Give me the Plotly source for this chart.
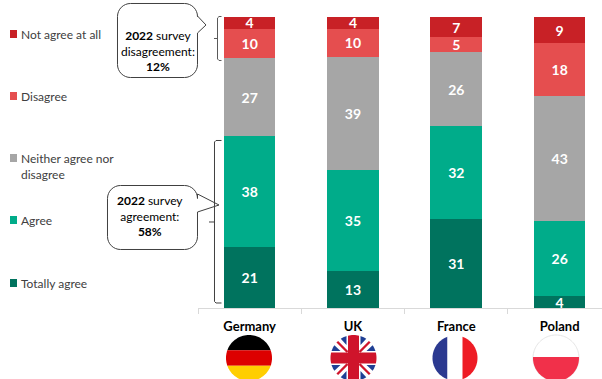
import math
import plotly.graph_objects as go

W, H = 602, 379
countries = ["Germany", "UK", "France", "Poland"]
series_names = ["Totally agree", "Agree", "Neither agree nor disagree", "Disagree", "Not agree at all"]
totally_agree = [21, 13, 31, 4]
agree = [38, 35, 32, 26]
neither = [27, 39, 26, 43]
disagree = [10, 10, 5, 18]
not_agree = [4, 4, 7, 9]
series_values = [totally_agree, agree, neither, disagree, not_agree]
series_colors = ["#00735E", "#00AC8A", "#A6A6A6", "#E54E4F", "#C82126"]

FONT = "Lato, Carlito, Calibri, sans-serif"
PL, PR, PT, PB = 198, 602, 17, 308


def px(x):
    return x / W


def py(y):
    return 1 - y / H


def path_from(points, close=True):
    s = "M" + " L".join(f"{px(x):.5f},{py(y):.5f}" for x, y in points)
    return s + (" Z" if close else "")


def circle_poly(cx, cy, r, n=96):
    return [(cx + r * math.cos(2 * math.pi * i / n), cy + r * math.sin(2 * math.pi * i / n)) for i in range(n)]


def signed_area(poly):
    return sum(poly[i][0] * poly[(i + 1) % len(poly)][1] - poly[(i + 1) % len(poly)][0] * poly[i][1]
               for i in range(len(poly))) / 2


def clip(poly, clipper):
    """Sutherland-Hodgman clipping to a convex clipper (clockwise on screen)."""
    out = poly
    for i in range(len(clipper)):
        a, b = clipper[i], clipper[(i + 1) % len(clipper)]
        inp, out = out, []

        def side(p):
            return (b[0] - a[0]) * (p[1] - a[1]) - (b[1] - a[1]) * (p[0] - a[0])

        for j in range(len(inp)):
            p, q = inp[j], inp[(j + 1) % len(inp)]
            sp, sq = side(p), side(q)
            if sp >= 0:
                out.append(p)
            if (sp >= 0) != (sq >= 0):
                t = sp / (sp - sq)
                out.append((p[0] + t * (q[0] - p[0]), p[1] + t * (q[1] - p[1])))
        if not out:
            return []
    return out


shapes = []


def add_poly(points, fill, line=None, lw=0):
    shapes.append(dict(type="path", xref="paper", yref="paper", path=path_from(points), fillcolor=fill,
                       line=dict(color=line or fill, width=lw), layer="above"))


def flag_poly(c, poly, fill):
    res = clip(poly, c)
    if res:
        add_poly(res, fill)


def flag_rect(c, x0, y0, x1, y1, fill):
    flag_poly(c, [(x0, y0), (x1, y0), (x1, y1), (x0, y1)], fill)


def band(c, a, b, half, fill):
    dx, dy = b[0] - a[0], b[1] - a[1]
    L = math.hypot(dx, dy)
    nx, ny = -dy / L * half, dx / L * half
    flag_poly(c, [(a[0] + nx, a[1] + ny), (b[0] + nx, b[1] + ny), (b[0] - nx, b[1] - ny), (a[0] - nx, a[1] - ny)], fill)


# Germany flag
cx, cy, r = 249, 358, 23
c = circle_poly(cx, cy, r)
flag_rect(c, cx - r, cy - r, cx + r, cy - r / 3, "#000000")
flag_rect(c, cx - r, cy - r / 3, cx + r, cy + r / 3, "#DD0000")
flag_rect(c, cx - r, cy + r / 3, cx + r, cy + r, "#FFCE00")

# UK flag
cx, cy, r = 353.5, 358, 23
c = circle_poly(cx, cy, r)
add_poly(c, "#FFFFFF")
blue = "#1F3F94"
red = "#CF142B"
for sx in (-1, 1):
    for sy in (-1, 1):
        t1 = [(cx + sx * 7, cy + sy * 22), (cx + sx * 7, cy + sy * 13), (cx + sx * 14.5, cy + sy * 21)]
        t2 = [(cx + sx * 22, cy + sy * 7), (cx + sx * 13, cy + sy * 7), (cx + sx * 21, cy + sy * 14.5)]
        for t in (t1, t2):
            if signed_area(t) < 0:
                t = t[::-1]
            flag_poly(c, t, blue)
for sx in (-1, 1):
    for sy in (-1, 1):
        band(c, (cx + sx * 23, cy + sy * 23), (cx + sx * 6, cy + sy * 6), 1.2, red)
flag_rect(c, cx - 5.5, cy - r, cx + 5.5, cy + r, red)
flag_rect(c, cx - r, cy - 5.5, cx + r, cy + 5.5, red)

# France flag
cx, cy, r = 455, 358, 22.5
c = circle_poly(cx, cy, r)
flag_rect(c, cx - r, cy - r, cx - r / 3, cy + r, "#2B3990")
flag_rect(c, cx - r / 3, cy - r, cx + r / 3, cy + r, "#FFFFFF")
flag_rect(c, cx + r / 3, cy - r, cx + r, cy + r, "#EE1C25")

# Poland flag
cx, cy, r = 556, 358, 23
c = circle_poly(cx, cy, r)
add_poly(c, "#FFFFFF", "#E6E6E6", 1)
flag_rect(c, cx - r, cy - 1, cx + r, cy + r, "#F1304A")


def rounded_callout(x0, y0, x1, y1, rad, tail):
    pts = []

    def arc(cx_, cy_, a0):
        for k in range(9):
            a = math.radians(a0 + k * 90 / 8)
            pts.append((cx_ + rad * math.cos(a), cy_ + rad * math.sin(a)))

    arc(x0 + rad, y0 + rad, 180)
    arc(x1 - rad, y0 + rad, 270)
    pts.extend(tail)
    arc(x1 - rad, y1 - rad, 0)
    arc(x0 + rad, y1 - rad, 90)
    return pts


CALL = "#404040"
add_poly(rounded_callout(117.5, 3.5, 197.5, 77.5, 13, [(197.5, 16), (206, 25), (197.5, 33)]), "#FFFFFF", CALL, 1)
add_poly(rounded_callout(107.5, 185.5, 197.5, 249.5, 13, [(197.5, 194), (219, 205), (197.5, 212)]), "#FFFFFF", CALL, 1)


def line_path(points, color, width=1):
    shapes.append(dict(type="path", xref="paper", yref="paper", path=path_from(points, close=False),
                       line=dict(color=color, width=width), layer="above"))


# Brackets
line_path([(221.5, 16.5), (219, 16.5), (217.5, 18), (217.5, 59), (219, 60.5), (221.5, 60.5)], "#595959")
line_path([(214, 38.5), (217.5, 38.5)], "#595959", 1)
line_path([(221.5, 140.5), (216, 140.5), (214.5, 142), (214.5, 301.5), (216, 303), (221.5, 303)], "#404040")
line_path([(209, 222), (214.5, 222)], "#404040", 1)

# Legend keys and labels
legend_rows = [
    ("Not agree at all", 34, series_colors[4]),
    ("Disagree", 96, series_colors[3]),
    ("Neither agree nor<br>disagree", 158, series_colors[2]),
    ("Agree", 220, series_colors[1]),
    ("Totally agree", 283, series_colors[0]),
]
annotations = []
for label, y, col in legend_rows:
    add_poly([(10, y - 4), (17, y - 4), (17, y + 4), (10, y + 4)], col)
    two = "<br>" in label
    annotations.append(dict(xref="paper", yref="paper", x=px(19), y=py(y - 9 if two else y),
                            text=label, showarrow=False, xanchor="left", yanchor="top" if two else "middle",
                            align="left", font=dict(family=FONT, size=12, color="#404040")))

annotations.append(dict(xref="paper", yref="paper", x=px(158), y=py(50.5), xanchor="center", yanchor="middle",
                        text="<b>2022</b> survey<br>disagreement:<br><b>12%</b>", showarrow=False,
                        font=dict(family=FONT, size=12, color="#000000"), align="center"))
annotations.append(dict(xref="paper", yref="paper", x=px(150), y=py(216), xanchor="center", yanchor="middle",
                        text="<b>2022</b> survey<br>agreement:<br><b>58%</b>", showarrow=False,
                        font=dict(family=FONT, size=12, color="#000000"), align="center"))

fig = go.Figure()
for name, vals, col in zip(series_names, series_values, series_colors):
    fig.add_trace(go.Bar(x=countries, y=vals, name=name, marker=dict(color=col, line=dict(width=0)),
                         text=[f"<b>{v}</b>" for v in vals], textposition="inside", insidetextanchor="middle",
                         textangle=0, constraintext="none", cliponaxis=False,
                         textfont=dict(family=FONT, size=14, color="#FFFFFF"), showlegend=False))

fig.update_layout(
    width=W, height=H, barmode="stack", barnorm="percent", bargap=0.5,
    margin=dict(l=0, r=0, t=0, b=0), autosize=False,
    paper_bgcolor="#FFFFFF", plot_bgcolor="#FFFFFF",
    shapes=shapes, annotations=annotations,
    xaxis=dict(domain=[PL / W, PR / W], type="category", categoryorder="array", categoryarray=countries,
               range=[-0.5, 3.41], tickson="boundaries", ticks="outside", ticklen=5, tickcolor="#D9D9D9",
               tickwidth=1, showline=True, linecolor="#D9D9D9", linewidth=1, showgrid=False, zeroline=False,
               ticklabelstandoff=6, tickfont=dict(family=FONT, size=13, color="#000000", weight="bold")),
    yaxis=dict(domain=[1 - PB / H, 1 - PT / H], range=[0, 100], visible=False),
)
fig.write_html("out.html", config=dict(displayModeBar=False),
               post_script="document.body.style.margin='0';document.body.style.overflow='hidden';")
